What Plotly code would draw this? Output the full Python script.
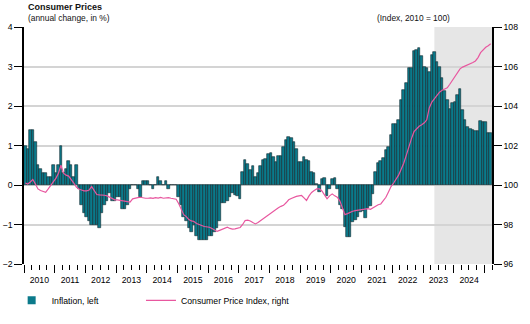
import plotly.graph_objects as go
import pandas as pd

# ---- data (monthly, Jan 2010 - Mar 2025) ----
inflation = [
    1.0, 0.9, 1.4, 1.4, 1.1, 0.5, 0.4, 0.3, 0.3, 0.2, 0.2, 0.5,            # 2010
    0.3, 0.5, 1.0, 0.3, 0.4, 0.6, 0.5, 0.2, 0.5, -0.1, -0.5, -0.7,         # 2011
    -0.8, -0.9, -1.0, -1.0, -1.0, -1.1, -0.7, -0.5, -0.4, -0.2, -0.4, -0.4,  # 2012
    -0.3, -0.3, -0.6, -0.6, -0.5, -0.1, 0.0, 0.0, -0.1, -0.3, 0.1, 0.1,    # 2013
    0.1, 0.0, -0.1, 0.0, 0.2, 0.1, 0.0, 0.1, -0.1, 0.0, 0.0, 0.0,          # 2014
    -0.3, -0.5, -0.8, -0.9, -1.1, -1.2, -1.0, -1.3, -1.4, -1.4, -1.4, -1.4,  # 2015
    -1.3, -1.3, -1.2, -1.1, -0.9, -0.45, -0.45, -0.4, -0.3, -0.2, -0.25, -0.27,  # 2016
    -0.35, 0.33, 0.64, 0.54, 0.37, 0.47, 0.2, 0.31, 0.47, 0.64, 0.67, 0.78,  # 2017
    0.81, 0.71, 0.58, 0.74, 0.74, 0.96, 1.13, 1.22, 1.2, 1.09, 0.92, 0.58,  # 2018
    0.58, 0.71, 0.64, 0.62, 0.33, 0.3, 0.03, -0.18, 0.16, 0.17, -0.27, -0.1,  # 2019
    0.15, 0.18, -0.1, -0.5, -0.6, -1.07, -1.32, -1.31, -0.94, -0.88, -0.82, -0.69,  # 2020
    -0.67, -0.84, -0.58, -0.52, -0.24, 0.33, 0.55, 0.62, 0.69, 0.88, 0.96, 1.26,  # 2021
    1.54, 1.54, 1.65, 2.14, 2.40, 2.57, 2.95, 2.95, 3.40, 3.43, 3.46, 3.26,  # 2022
    2.99, 2.95, 2.86, 3.30, 3.37, 3.12, 2.99, 2.70, 2.38, 2.14, 1.93, 2.08,  # 2023
    2.10, 2.27, 2.44, 1.91, 1.65, 1.48, 1.43, 1.40, 1.37, 1.37, 1.61, 1.60,  # 2024
    1.60, 1.32, 1.32,                                                       # 2025
]

cpi_index = [
    100.1, 100.05, 100.15, 100.28, 100.05, 99.8, 99.72, 99.68, 99.63, 99.8, 99.97, 100.2,
    100.35, 100.6, 101.0, 100.6, 100.5, 100.45, 100.3, 100.1, 99.9, 99.8, 99.75, 99.7,
    99.7, 99.75, 99.92, 99.7, 99.52, 99.5, 99.5, 99.48, 99.45, 99.38, 99.3, 99.25,
    99.25, 99.22, 99.2, 99.17, 99.15, 99.13, 99.3, 99.35, 99.36, 99.38, 99.35, 99.33,
    99.33, 99.35, 99.32, 99.36, 99.34, 99.37, 99.33, 99.35, 99.36, 99.33, 99.32, 99.28,
    99.05, 98.75, 98.5, 98.4, 98.25, 98.18, 98.15, 98.05, 97.98, 97.95, 97.9, 97.88,
    97.86, 97.8, 97.72, 97.65, 97.7, 97.75, 97.82, 97.86, 97.8, 97.77, 97.78, 97.8,
    97.85, 98.0, 98.2, 98.22, 98.18, 98.1, 98.03, 98.1, 98.2, 98.28, 98.4, 98.5,
    98.6, 98.7, 98.78, 98.85, 98.92, 98.97, 99.1, 99.25, 99.32, 99.38, 99.42, 99.45,
    99.47, 99.35, 99.22, 99.45, 99.62, 99.72, 99.8, 99.8, 99.7, 99.5, 99.3, 99.45,
    99.55, 99.45, 99.38, 99.2, 98.85, 98.5, 98.55, 98.62, 98.67, 98.7, 98.72, 98.73,
    98.75, 98.78, 98.8, 98.77, 98.85, 98.95, 99.0, 99.04, 99.2, 99.38, 99.65, 99.92,
    100.1, 100.3, 100.5, 100.8, 101.1, 101.5, 101.95, 102.35, 102.7, 102.85, 102.97, 103.05,
    103.15, 103.3, 103.9, 104.2, 104.38, 104.55, 104.7, 104.8, 104.87, 104.92, 105.1, 105.3,
    105.55, 105.75, 105.88, 105.97, 106.02, 106.07, 106.12, 106.2, 106.28, 106.45, 106.7, 106.85,
    106.97, 107.05, 107.15,
]

start_month = "2010-01-01"
shade_start = "2023-05-16"
x_end = "2025-04-01"

# ---- styles ----
TEAL = "#0b7a8b"
EDGE = "#10262c"
PINK = "#e8579f"
GRID = "#d4d4d4"
SHADE = "#e6e6e6"
FONT = "Liberation Sans, Arial, sans-serif"

months = pd.date_range(start_month, periods=len(inflation), freq="MS")
nxt = months + pd.offsets.MonthBegin(1)
mid = months + (nxt - months) / 2
width_ms = ((nxt - months).total_seconds() * 1000).tolist()

fig = go.Figure()
fig.add_trace(go.Bar(
    x=mid, y=inflation, width=width_ms,
    marker=dict(color=TEAL, line=dict(color=EDGE, width=0.6)),
    showlegend=False, hoverinfo="skip",
))
fig.add_trace(go.Scatter(
    x=[None], y=[None], mode="markers", name="Inflation, left",
    marker=dict(symbol="square", size=8, color=TEAL), legend="legend",
))
fig.add_trace(go.Scatter(
    x=mid, y=cpi_index, yaxis="y2", mode="lines",
    name="Consumer Price Index, right", legend="legend2",
    line=dict(color=PINK, width=1.2),
))

legend_common = dict(
    orientation="h", xref="container", yref="container",
    y=0.073, xanchor="left", yanchor="middle",
    font=dict(size=8.7), bgcolor="rgba(0,0,0,0)",
)

fig.update_layout(
    width=530, height=324,
    margin=dict(l=24, r=38, t=27, b=60, autoexpand=False),
    paper_bgcolor="white", plot_bgcolor="white",
    bargap=0,
    font=dict(family=FONT, size=8.7, color="#000"),
    xaxis=dict(
        type="date", range=[start_month, x_end],
        tick0=start_month, dtick="M12", ticklabelmode="period", tickformat="%Y",
        ticks="outside", ticklen=8, tickcolor="#000", tickwidth=1,
        showgrid=False, showline=False, zeroline=False,
        minor=dict(dtick="M3", ticks="outside", ticklen=5, tickcolor="#000",
                   tickwidth=1, showgrid=False),
    ),
    yaxis=dict(
        range=[-2, 4], dtick=1, ticks="outside", ticklen=8, tickcolor="#000",
        tickwidth=1, showline=True, linecolor="#000", linewidth=1.5,
        showgrid=True, gridcolor=GRID, gridwidth=1.5, zeroline=False,
    ),
    yaxis2=dict(
        range=[96, 108], dtick=2, overlaying="y", side="right",
        ticks="outside", ticklen=8, tickcolor="#000", tickwidth=1,
        showline=True, linecolor="#000", linewidth=1.5,
        showgrid=False, zeroline=False,
    ),
    legend=dict(x=0.022, **legend_common),
    legend2=dict(x=0.266, **legend_common),
    shapes=[
        dict(type="rect", xref="x", yref="paper", x0=shade_start, x1=x_end,
             y0=0, y1=1, fillcolor=SHADE, line=dict(width=0), layer="between"),
        dict(type="line", xref="paper", yref="y", x0=0, x1=1, y0=0, y1=0,
             line=dict(color="#1a1a1a", width=1.5), layer="between"),
    ],
    annotations=[
        dict(text="<b>Consumer Prices</b>", xref="paper", yref="paper",
             x=0.004, y=1.0844, xanchor="left", yanchor="middle",
             showarrow=False, font=dict(size=9, color="#111")),
        dict(text="(annual change, in %)", xref="paper", yref="paper",
             x=0.004, y=1.0359, xanchor="left", yanchor="middle",
             showarrow=False, font=dict(size=8.4, color="#111")),
        dict(text="(Index, 2010 = 100)", xref="paper", yref="paper",
             x=0.9145, y=1.0359, xanchor="right", yanchor="middle",
             showarrow=False, font=dict(size=8.4, color="#111")),
    ],
)

fig.write_html("out.html")
